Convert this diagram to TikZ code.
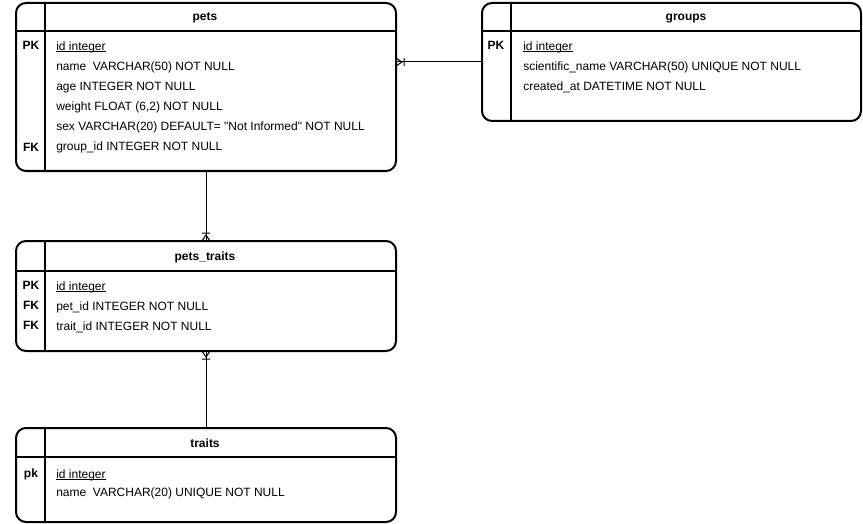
\documentclass[tikz,border=0pt]{standalone}
\usepackage{fontspec}
\setmainfont{Liberation Sans}
\usetikzlibrary{positioning}

% crow's foot, one or many
\pgfarrowsdeclare{crow}{crow}
{\pgfarrowsleftextend{-6.5pt}\pgfarrowsrightextend{0pt}}
{
  \pgfsetdash{}{0pt}
  \pgfpathmoveto{\pgfpoint{0pt}{3pt}}
  \pgfpathlineto{\pgfpoint{-4.5pt}{0pt}}
  \pgfpathlineto{\pgfpoint{0pt}{-3pt}}
  \pgfpathmoveto{\pgfpoint{-6pt}{3pt}}
  \pgfpathlineto{\pgfpoint{-6pt}{-3pt}}
  \pgfusepathqstroke
}

% underlined key name
\newcommand{\uln}[1]{\setbox0\hbox{#1}\rlap{\rule[-1.3pt]{\wd0}{0.5pt}}\box0}

\begin{document}
\begin{tikzpicture}[x=0.75pt, y=-0.75pt,
    font=\fontsize{9pt}{11pt}\selectfont,
    tbl/.style={draw, line width=1.5pt, rounded corners=7.5pt, inner sep=0pt, outer sep=0pt},
    sep/.style={line width=1.5pt},
    hdr/.style={font=\fontsize{9pt}{11pt}\selectfont\bfseries, inner sep=0pt, text height=6.4pt, text depth=0pt},
    key/.style={font=\fontsize{9pt}{11pt}\selectfont\bfseries, inner sep=0pt, text height=6.4pt, text depth=0pt},
    col/.style={anchor=west, inner sep=0pt, text height=6.4pt, text depth=0pt},
    link/.style={line width=0.75pt, -crow}]
    \useasboundingbox (0,0) rectangle (863,524);

    % Tables
    \node[tbl, minimum width=285pt, minimum height=126pt] (pets) at (206,87) {};
    \node[tbl, minimum width=284.25pt, minimum height=88.5pt] (groups) at (671.5,62) {};
    \node[tbl, minimum width=285pt, minimum height=82.5pt] (petstraits) at (206,296) {};
    \node[tbl, minimum width=285pt, minimum height=70.5pt] (traits) at (206,475) {};

    % header lines and key columns
    \draw[sep] (16,31) -- (396,31);
    \draw[sep] (45,3) -- (45,171);
    \draw[sep] (482,31) -- (861,31);
    \draw[sep] (511,3) -- (511,121);
    \draw[sep] (16,271) -- (396,271);
    \draw[sep] (45,241) -- (45,351);
    \draw[sep] (16,457) -- (396,457);
    \draw[sep] (45,428) -- (45,522);

    % pets
    \node[hdr] (pets-title) at (205,16) {pets};
    \node[key] (pets-pk) at (31,45) {PK};
    \node[key] (pets-fk) at (31,147) {FK};
    \node[col] (pets-id) at (56,46) {\uln{id integer}};
    \node[col] (pets-name) at (56,66) {name\ \ VARCHAR(50) NOT NULL};
    \node[col] (pets-age) at (56,86) {age INTEGER NOT NULL};
    \node[col] (pets-weight) at (56,106) {weight FLOAT (6,2) NOT NULL};
    \node[col] (pets-sex) at (56,126) {sex VARCHAR(20) DEFAULT= \textquotedbl Not Informed\textquotedbl\ NOT NULL};
    \node[col] (pets-group) at (56,146) {group\_id INTEGER NOT NULL};

    % groups
    \node[hdr] (groups-title) at (686,16) {groups};
    \node[key] (groups-pk) at (496,45) {PK};
    \node[col] (groups-id) at (523,46) {\uln{id integer}};
    \node[col] (groups-name) at (523,66) {scientific\_name VARCHAR(50) UNIQUE NOT NULL};
    \node[col] (groups-created) at (523,86) {created\_at DATETIME NOT NULL};

    % pets_traits
    \node[hdr] (petstraits-title) at (205,256) {pets\_traits};
    \node[key] (petstraits-pk) at (31,285) {PK};
    \node[key] (petstraits-fk1) at (31,305) {FK};
    \node[key] (petstraits-fk2) at (31,325) {FK};
    \node[col] (petstraits-id) at (56,286) {\uln{id integer}};
    \node[col] (petstraits-pet) at (56,306) {pet\_id INTEGER NOT NULL};
    \node[col] (petstraits-trait) at (56,326) {trait\_id INTEGER NOT NULL};

    % traits
    \node[hdr] (traits-title) at (205,443) {traits};
    \node[key] (traits-pk) at (31,473) {pk};
    \node[col] (traits-id) at (56,474) {\uln{id integer}};
    \node[col] (traits-name) at (56,492) {name\ \ VARCHAR(20) UNIQUE NOT NULL};

    % Relations
    \draw[link] (groups.west) -- (pets.east |- groups.west);
    \draw[link] (pets.south) -- (petstraits.north);
    \draw[link] (traits.north) -- (petstraits.south);
\end{tikzpicture}
\end{document}
